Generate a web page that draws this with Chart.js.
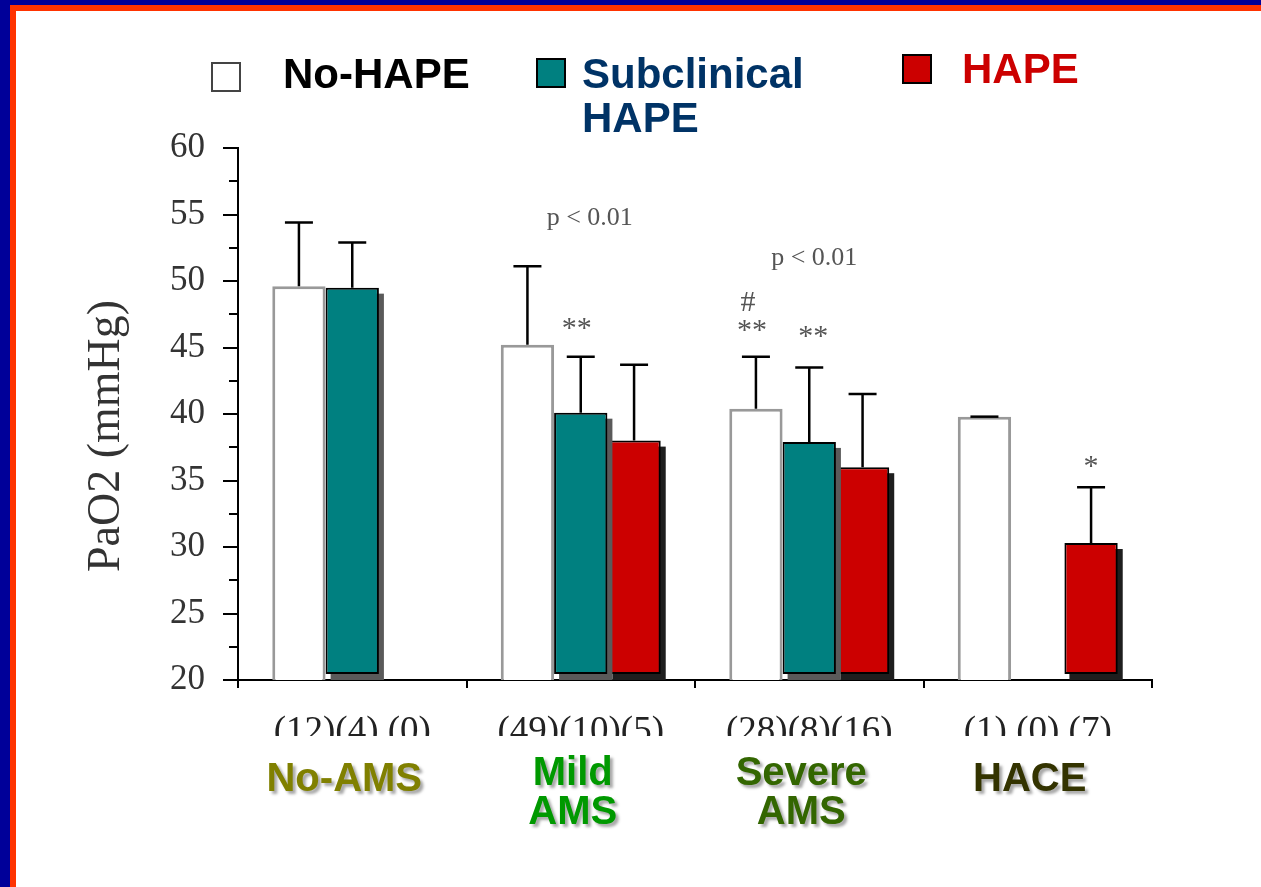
<!DOCTYPE html>
<html>
<head>
<meta charset="utf-8">
<script src="https://cdn.jsdelivr.net/npm/chart.js@4.4.1/dist/chart.umd.min.js"></script>
<style>
  html, body { margin: 0; padding: 0; background: #ffffff; }
  #frame { position: absolute; left: 0; top: 0; width: 1261px; height: 887px; box-sizing: border-box;
           border-top: 5px solid #000099; border-left: 10px solid #000099; }
  #inner { position: absolute; left: 0; top: 0; right: 0; bottom: 0;
           border-top: 6px solid #ff3300; border-left: 6px solid #ff3300; }
  #c { position: absolute; left: 0; top: 0; }
</style>
</head>
<body>
<div id="frame"><div id="inner"></div></div>
<canvas id="c" width="1261" height="887"></canvas>
<script>
// PaO2 by AMS severity, split by HAPE status (mean ± SD)
const categories   = ['No-AMS', 'Mild AMS', 'Severe AMS', 'HACE'];
const categoryLines = [['No-AMS'], ['Mild', 'AMS'], ['Severe', 'AMS'], ['HACE']];
const categoryColors = ['#808000', '#009900', '#336600', '#333300'];
const sampleSizes  = ['(12)(4) (0)', '(49)(10)(5)', '(28)(8)(16)', '(1) (0) (7)'];

const noHapeMean      = [49.6, 45.2, 40.4, 39.8];
const noHapeSD        = [4.8, 5.9, 3.9, 0];
const subclinicalMean = [49.5, 40.1, 37.9, null];
const subclinicalSD   = [3.4, 4.2, 5.6, null];
const hapeMean        = [null, 38.0, 36.0, 30.3];
const hapeSD          = [null, 5.7, 5.5, 4.2];

const yMin = 20, yMax = 60, yStep = 5;

// significance marks: dataset, category, height (mmHg), horizontal nudge
const sigMarks = [
  { text: 'p < 0.01', ds: 1, i: 1, value: 54.7, dx: 9 },
  { text: '**',       ds: 1, i: 1, value: 46.4, dx: -4 },
  { text: 'p < 0.01', ds: 1, i: 2, value: 51.7, dx: 5 },
  { text: '#',        ds: 0, i: 2, value: 48.3, dx: -8 },
  { text: '**',       ds: 0, i: 2, value: 46.2, dx: -4 },
  { text: '**',       ds: 1, i: 2, value: 45.8, dx: 4 },
  { text: '*',        ds: 2, i: 3, value: 36.0, dx: 0 }
];

const SERIF = '"Liberation Serif", "Times New Roman", serif';
const SANS  = '"Liberation Sans", Arial, sans-serif';

const decor = {
  id: 'decor',
  beforeDatasetDraw(chart, args) {
    const ds = chart.data.datasets[args.index];
    if (!ds.shadowColor) return;
    // drop shadow behind each filled bar
    const ctx = chart.ctx;
    ctx.save();
    ctx.fillStyle = ds.shadowColor;
    args.meta.data.forEach((el, i) => {
      if (ds.data[i] == null) return;
      const p = el.getProps(['x', 'y', 'base', 'width'], true);
      ctx.fillRect(p.x - p.width / 2 + 5, p.y + 6, p.width, p.base - p.y);
    });
    ctx.restore();
  },
  afterDatasetsDraw(chart) {
    const ctx = chart.ctx;
    const y = chart.scales.y;
    const area = chart.chartArea;

    // minor ticks on the value axis
    ctx.save();
    ctx.strokeStyle = '#000';
    ctx.lineWidth = 2;
    for (let v = yMin + yStep / 2; v < yMax; v += yStep) {
      const py = Math.round(y.getPixelForValue(v));
      ctx.beginPath();
      ctx.moveTo(area.left - 9, py);
      ctx.lineTo(area.left, py);
      ctx.stroke();
    }

    // error bars (upper SD only)
    ctx.lineWidth = 2.5;
    chart.data.datasets.forEach((ds, di) => {
      const meta = chart.getDatasetMeta(di);
      meta.data.forEach((el, i) => {
        const m = ds.data[i];
        if (m == null) return;
        const top = y.getPixelForValue(m + ds.sd[i]);
        ctx.beginPath();
        ctx.moveTo(el.x, el.y);
        ctx.lineTo(el.x, top);
        ctx.moveTo(el.x - 14, top);
        ctx.lineTo(el.x + 14, top);
        ctx.stroke();
      });
    });

    // the sample-size row is cut off along its lower edge
    ctx.fillStyle = '#ffffff';
    ctx.fillRect(area.left + 2, 736, area.right - area.left, 16);
    ctx.restore();
  },
  afterDraw(chart) {
    const ctx = chart.ctx;
    const x = chart.scales.x, y = chart.scales.y;
    const area = chart.chartArea;
    ctx.save();

    // value-axis title
    ctx.save();
    ctx.translate(107, (area.top + area.bottom) / 2 + 22);
    ctx.rotate(-Math.PI / 2);
    ctx.font = '46px ' + SERIF;
    ctx.fillStyle = '#333';
    ctx.textAlign = 'center';
    ctx.textBaseline = 'middle';
    ctx.fillText('PaO2 (mmHg)', 0, 0);
    ctx.restore();

    // significance annotations
    ctx.fillStyle = '#555';
    ctx.textAlign = 'center';
    ctx.textBaseline = 'middle';
    sigMarks.forEach(mk => {
      const el = chart.getDatasetMeta(mk.ds).data[mk.i];
      ctx.font = (mk.text.startsWith('p') ? '26px ' : '30px ') + SERIF;
      ctx.fillText(mk.text, el.x + mk.dx, y.getPixelForValue(mk.value));
    });

    // category names under the sample sizes
    ctx.font = 'bold 40px ' + SANS;
    categoryLines.forEach((lines, i) => {
      const cx = x.getPixelForValue(i) - 8;
      lines.forEach((ln, k) => {
        const cy = lines.length === 1 ? 780 : 774 + k * 39;
        ctx.shadowColor = 'rgba(0,0,0,0.35)';
        ctx.shadowOffsetX = 3;
        ctx.shadowOffsetY = 3;
        ctx.shadowBlur = 3;
        ctx.fillStyle = categoryColors[i];
        ctx.fillText(ln, cx, cy);
      });
    });
    ctx.shadowColor = 'transparent';

    // legend
    const legendItems = [
      { box: [212, 63], text: ['No-HAPE'], tx: 283, ty: 76, color: '#000000' },
      { box: [537, 59], text: ['Subclinical', 'HAPE'], tx: 582, ty: 76, color: '#003366' },
      { box: [903, 55], text: ['HAPE'], tx: 962, ty: 71, color: '#cc0000' }
    ];
    legendItems.forEach((it, di) => {
      const ds = chart.data.datasets[di];
      ctx.fillStyle = ds.backgroundColor;
      ctx.fillRect(it.box[0], it.box[1], 28, 28);
      ctx.lineWidth = 2;
      ctx.strokeStyle = di === 0 ? '#444' : '#000';
      ctx.strokeRect(it.box[0], it.box[1], 28, 28);
      ctx.font = 'bold 42px ' + SANS;
      ctx.textAlign = 'left';
      ctx.fillStyle = it.color;
      it.text.forEach((t, k) => ctx.fillText(t, it.tx, it.ty + k * 44));
    });
    ctx.restore();
  }
};

const colouredBase = yMin + 0.45;

new Chart(document.getElementById('c'), {
  type: 'bar',
  data: {
    labels: categories,
    datasets: [
      { label: 'No-HAPE', data: noHapeMean, sd: noHapeSD,
        backgroundColor: '#ffffff', borderColor: '#999999', borderWidth: 3, borderSkipped: 'bottom' },
      { label: 'Subclinical HAPE', data: subclinicalMean, sd: subclinicalSD, shadowColor: '#5a5a5a',
        base: colouredBase, backgroundColor: '#008080', borderColor: '#000000', borderWidth: 2, borderSkipped: false },
      { label: 'HAPE', data: hapeMean, sd: hapeSD, shadowColor: '#1e1e1e',
        base: colouredBase, backgroundColor: '#cc0000', borderColor: '#000000', borderWidth: 2, borderSkipped: false }
    ]
  },
  options: {
    responsive: false,
    animation: false,
    devicePixelRatio: 1,
    layout: { padding: { left: 0, top: 148, right: 109, bottom: 0 } },
    datasets: { bar: { categoryPercentage: 0.7, barPercentage: 1.0 } },
    plugins: { legend: { display: false }, tooltip: { enabled: false } },
    scales: {
      x: {
        afterFit: s => { s.height = 207; },
        grid: { drawOnChartArea: false, drawTicks: true, tickLength: 8, color: '#000', lineWidth: 2 },
        border: { display: true, color: '#000', width: 2 },
        ticks: {
          padding: 22,
          color: '#222',
          font: { family: SERIF, size: 37 },
          callback: (v, i) => sampleSizes[i]
        }
      },
      y: {
        min: yMin, max: yMax,
        afterFit: s => { s.width = 238; },
        grid: { drawOnChartArea: false, drawTicks: true, tickLength: 15, color: '#000', lineWidth: 2 },
        border: { display: true, color: '#000', width: 2 },
        ticks: { stepSize: yStep, padding: 18, color: '#333', font: { family: SERIF, size: 35 } }
      }
    }
  },
  plugins: [decor]
});
</script>
</body>
</html>
